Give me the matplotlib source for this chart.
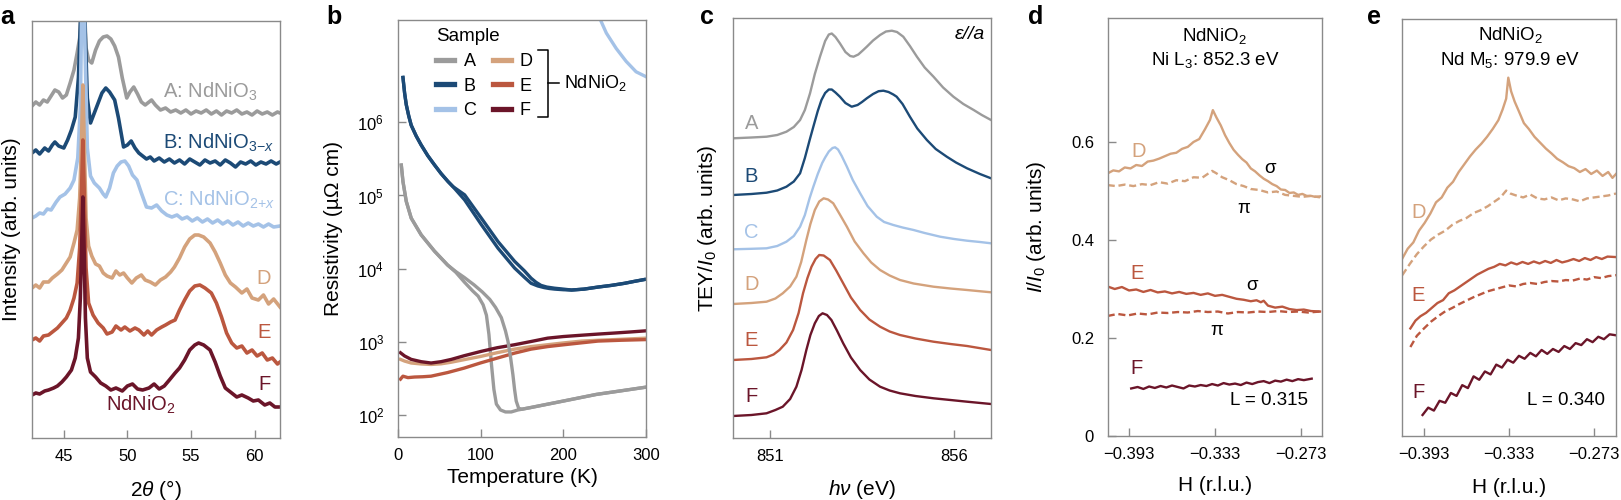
import matplotlib
matplotlib.use("Agg")
import matplotlib.pyplot as plt
from matplotlib.ticker import NullLocator

plt.rcParams['font.family'] = ['Liberation Sans', 'DejaVu Sans']
plt.rcParams['mathtext.fontset'] = 'custom'
plt.rcParams['mathtext.rm'] = 'Liberation Sans'
plt.rcParams['mathtext.it'] = 'Liberation Sans:italic'
plt.rcParams['mathtext.bf'] = 'Liberation Sans:bold'

colors = {'A': '#9b9b9b', 'B': '#1c4a76', 'C': '#a4c2e7',
          'D': '#d4a27c', 'E': '#bb573f', 'F': '#6b1529'}
frame = '#8a8a8a'

# ---- panel a: XRD, 2theta (deg) vs offset intensity (arb.)
xrd_A_x = [42.5, 42.8, 43.1, 43.4, 43.7, 44.0, 44.3, 44.6, 44.9, 45.2, 45.5, 45.8, 46.05, 46.25, 46.4, 46.5, 46.6,
           46.75, 46.95, 47.2, 47.5, 47.8, 48.1, 48.4, 48.7, 49.0, 49.3, 49.6, 49.95, 50.2, 50.5, 50.8, 51.1, 51.4,
           51.7, 51.9, 52.2, 52.6, 53.0, 53.4, 53.8, 54.2, 54.6, 55.0, 55.4, 55.8, 56.2, 56.6, 57.0, 57.4, 57.8,
           58.2, 58.6, 59.0, 59.4, 59.8, 60.2, 60.6, 61.0, 61.4, 61.8, 62.0]
xrd_A_y = [332, 336, 333, 338, 336, 342, 348, 346, 340, 343, 355, 368, 385, 400, 440, 520, 440,
           390, 378, 375, 388, 397, 401, 402, 399, 392, 381, 360, 340, 346, 351, 344, 336, 333,
           336, 338, 333, 328, 330, 326, 328, 325, 328, 324, 327, 325, 328, 324, 327, 323, 327,
           325, 328, 324, 326, 323, 327, 324, 326, 323, 326, 325]
xrd_B_x = [42.5, 42.8, 43.1, 43.5, 43.8, 44.1, 44.3, 44.6, 45.0, 45.3, 45.6, 45.9, 46.15, 46.35, 46.5, 46.65,
           46.85, 47.1, 47.4, 47.7, 48.0, 48.3, 48.6, 49.0, 49.3, 49.7, 50.0, 50.3, 50.6, 50.9, 51.2, 51.5,
           51.8, 52.1, 52.5, 52.9, 53.3, 53.7, 54.1, 54.5, 54.9, 55.3, 55.7, 56.1, 56.5, 56.9, 57.3, 57.7,
           58.1, 58.5, 58.9, 59.3, 59.7, 60.1, 60.5, 60.9, 61.3, 61.7, 62.0]
xrd_B_y = [285, 288, 284, 290, 287, 293, 296, 292, 290, 298, 308, 321, 360, 430, 520, 420,
           340, 315, 325, 335, 345, 350, 346, 338, 320, 291, 293, 297, 290, 285, 282, 279,
           281, 277, 280, 276, 279, 275, 278, 274, 279, 276, 273, 278, 275, 277, 273, 278,
           275, 271, 276, 274, 277, 273, 276, 274, 277, 274, 276]
xrd_C_x = [42.5, 42.8, 43.1, 43.4, 43.7, 44.0, 44.4, 44.7, 45.1, 45.5, 45.8, 46.1, 46.3, 46.5, 46.65, 46.85,
           47.1, 47.4, 47.8, 48.1, 48.3, 48.6, 48.9, 49.2, 49.5, 49.8, 50.1, 50.4, 50.75, 51.1, 51.5, 51.9,
           52.3, 52.7, 53.1, 53.5, 53.9, 54.3, 54.7, 55.1, 55.5, 55.9, 56.3, 56.7, 57.1, 57.5, 57.9, 58.3,
           58.7, 59.1, 59.5, 59.9, 60.3, 60.7, 61.1, 61.5, 62.0]
xrd_C_y = [220, 222, 225, 224, 229, 228, 236, 241, 244, 250, 258, 280, 330, 520, 400, 290,
           262, 255, 250, 244, 241, 250, 265, 272, 276, 277, 272, 263, 258, 245, 231, 230,
           233, 227, 223, 221, 223, 219, 221, 217, 220, 216, 219, 215, 218, 214, 217, 213,
           216, 212, 215, 212, 214, 211, 214, 211, 212]
xrd_D_x = [42.5, 42.8, 43.1, 43.4, 43.8, 44.1, 44.5, 44.85, 45.2, 45.5, 45.8, 46.05, 46.25, 46.4, 46.5, 46.6,
           46.75, 46.95, 47.2, 47.5, 47.8, 48.1, 48.4, 48.8, 49.1, 49.4, 49.7, 50.0, 50.35, 50.7, 51.1, 51.4,
           51.8, 52.2, 52.6, 53.0, 53.4, 53.7, 54.1, 54.5, 54.9, 55.3, 55.6, 56.0, 56.5, 56.9, 57.3, 57.7,
           58.1, 58.5, 59.0, 59.4, 59.8, 60.3, 60.7, 61.1, 61.5, 62.0]
xrd_D_y = [150, 153, 150, 156, 156, 160, 164, 168, 175, 181, 195, 208, 240, 300, 353, 300,
           220, 192, 182, 174, 172, 165, 162, 160, 167, 163, 165, 160, 155, 160, 163, 158,
           156, 153, 158, 161, 166, 171, 180, 191, 199, 203, 203, 201, 195, 186, 175, 163,
           155, 151, 145, 149, 140, 138, 143, 134, 139, 131]
xrd_E_x = [42.5, 42.8, 43.1, 43.4, 43.8, 44.1, 44.5, 44.85, 45.2, 45.5, 45.8, 46.05, 46.25, 46.4, 46.5, 46.6,
           46.75, 46.95, 47.3, 47.7, 48.1, 48.4, 48.8, 49.1, 49.5, 49.8, 50.2, 50.6, 50.9, 51.3, 51.6, 51.9,
           52.3, 52.7, 53.0, 53.4, 53.75, 54.1, 54.5, 54.9, 55.3, 55.7, 56.1, 56.6, 57.0, 57.4, 57.8, 58.2,
           58.6, 59.0, 59.4, 59.8, 60.2, 60.6, 61.0, 61.4, 61.8, 62.0]
xrd_E_y = [98, 100, 97, 102, 103, 106, 110, 115, 120, 128, 140, 155, 190, 250, 298, 250,
           170, 135, 123, 115, 110, 104, 106, 112, 108, 111, 107, 110, 108, 103, 107, 103,
           108, 111, 113, 116, 118, 128, 138, 147, 152, 153, 150, 145, 135, 121, 105, 95,
           90, 92, 85, 88, 82, 85, 78, 80, 74, 76]
xrd_F_x = [42.5, 42.8, 43.1, 43.5, 43.8, 44.2, 44.5, 44.85, 45.2, 45.6, 45.9, 46.15, 46.3, 46.42, 46.5, 46.58,
           46.7, 46.85, 47.1, 47.5, 47.9, 48.3, 48.7, 49.1, 49.6, 50.0, 50.4, 50.8, 51.2, 51.7, 52.1, 52.5,
           52.9, 53.3, 53.75, 54.1, 54.5, 54.9, 55.3, 55.6, 56.0, 56.5, 56.9, 57.3, 57.7, 58.2, 58.6, 59.0,
           59.5, 59.9, 60.3, 60.8, 61.2, 61.6, 62.0]
xrd_F_y = [43, 45, 44, 47, 48, 50, 52, 56, 61, 68, 80, 100, 140, 200, 241, 200,
           120, 80, 66, 61, 55, 52, 48, 50, 47, 52, 54, 49, 48, 50, 54, 49,
           52, 58, 65, 70, 78, 88, 93, 95, 93, 88, 76, 62, 50, 45, 41, 43,
           40, 37, 38, 33, 35, 31, 31]

# ---- panel b: resistivity (uOhm cm) vs temperature (K), two branches for A and B
rho_A1_T = [4, 6, 10, 16, 28, 44, 60, 70, 80, 90, 97, 103, 107, 110, 113, 116, 119, 124, 130, 137, 145, 160,
            200, 240, 270, 300]
rho_A1 = [2.6e5, 1.55e5, 8.3e4, 4.9e4, 2.9e4, 1.74e4, 1.12e4, 8.9e3, 6.6e3, 5.0e3, 4.2e3, 3.2e3, 2.3e3,
          1.26e3, 500, 224, 141, 117, 110, 110, 117, 126, 155, 191, 214, 240]
rho_A2_T = [4, 6, 10, 16, 28, 44, 60, 70, 80, 92, 102, 111, 118, 125, 130, 133, 136, 139, 141, 143, 146, 150,
            160, 200, 240, 270, 300]
rho_A2 = [2.6e5, 1.55e5, 8.3e4, 4.9e4, 2.9e4, 1.74e4, 1.12e4, 9.1e3, 7.6e3, 6.0e3, 4.8e3, 3.8e3, 2.95e3,
          2.14e3, 1.41e3, 1.02e3, 631, 355, 224, 155, 123, 120, 126, 155, 191, 214, 240]
rho_B1_T = [6, 8, 10, 13, 16, 22, 28, 36, 44, 52, 60.5, 66.5, 80.6, 100.8, 121, 141, 153, 161, 167, 173, 180,
            189.5, 200, 210, 225, 242, 258, 274, 286, 298]
rho_B1 = [4.1e6, 2.5e6, 1.74e6, 1.22e6, 9.1e5, 6.5e5, 4.9e5, 3.5e5, 2.63e5, 2.0e5, 1.55e5, 1.32e5, 1.02e5,
          4.9e4, 2.34e4, 1.26e4, 9.3e3, 7.4e3, 6.5e3, 5.9e3, 5.6e3, 5.4e3, 5.25e3, 5.1e3, 5.25e3, 5.6e3,
          5.9e3, 6.3e3, 6.7e3, 7.1e3]
rho_B2_T = [6, 8, 10, 13, 16, 22, 28, 36, 44, 52, 60.5, 66.5, 80.6, 100.8, 121, 141, 153, 161, 169, 177, 183,
            189.5, 200, 210, 225, 242, 258, 274, 286, 298]
rho_B2 = [4.1e6, 2.5e6, 1.74e6, 1.22e6, 9.1e5, 6.5e5, 4.9e5, 3.5e5, 2.63e5, 2.0e5, 1.55e5, 1.32e5, 8.7e4,
          4.0e4, 1.9e4, 1.02e4, 7.6e3, 6.3e3, 5.8e3, 5.5e3, 5.35e3, 5.25e3, 5.15e3, 5.1e3, 5.25e3, 5.6e3,
          5.9e3, 6.3e3, 6.7e3, 7.1e3]
rho_C_T = [243, 252, 264, 276, 288, 300]
rho_C = [2.8e7, 1.66e7, 1.02e7, 6.8e6, 4.9e6, 4.2e6]
rho_D_T = [3, 8, 16, 28, 40, 52, 64, 80, 100, 120, 141, 161, 181, 200, 222, 242, 262, 282, 300]
rho_D = [575, 545, 513, 498, 490, 500, 525, 570, 631, 710, 794, 860, 912, 965, 1023, 1050, 1072, 1098, 1122]
rho_E_T = [3, 6, 12, 20, 30, 40, 60, 80, 100, 121, 141, 161, 181, 201, 222, 242, 270, 300]
rho_E = [309, 339, 324, 330, 333, 339, 380, 437, 515, 603, 700, 794, 860, 912, 968, 1023, 1050, 1072]
rho_F_T = [3, 8, 16, 28, 40, 52, 64.5, 80, 100.8, 120, 141, 161, 181, 200, 222, 242, 262, 282, 300]
rho_F = [708, 640, 575, 535, 513, 535, 575, 645, 741, 830, 912, 1010, 1122, 1180, 1230, 1275, 1318, 1365, 1413]

# ---- panel c: XAS, photon energy (eV) vs offset TEY (arb.)
xas_A_x = [850.0, 850.5, 850.91, 851.2, 851.45, 851.65, 851.82, 851.95, 852.09, 852.22, 852.36, 852.5, 852.6,
           852.68, 852.78, 852.9, 853.05, 853.18, 853.27, 853.4, 853.52, 853.63, 853.8, 853.99, 854.15, 854.31,
           854.45, 854.62, 854.8, 854.99, 855.2, 855.44, 855.7, 855.98, 856.25, 856.53, 856.75, 857.0]
xas_A_y = [299.7, 300.5, 301.3, 303, 306.3, 311, 318, 328, 344.7, 364, 381.3, 397, 403.5,
           404.5, 401, 394.7, 386, 382, 381.3, 383.5, 387.5, 391.3, 397.5, 403, 406.5, 407.3,
           406, 401.3, 392, 381.3, 370.5, 361.3, 350.5, 341.3, 334, 328, 323, 318]
xas_B_x = [850.0, 850.5, 850.91, 851.2, 851.45, 851.65, 851.82, 851.95, 852.08, 852.18, 852.3, 852.4, 852.5,
           852.6, 852.68, 852.78, 852.9, 853.05, 853.22, 853.38, 853.5, 853.63, 853.8, 853.95, 854.08, 854.22,
           854.35, 854.44, 854.6, 854.8, 855.0, 855.26, 855.5, 855.8, 856.05, 856.35, 856.7, 857.0]
xas_B_y = [243, 244, 245.3, 247.5, 251.3, 256.5, 264.7, 280, 298, 311.3, 327, 338, 345,
           348.5, 348.5, 345.5, 341.3, 335, 331.3, 333, 336, 339.7, 344, 346.8, 347.3, 346,
           343.5, 341.3, 334, 321.3, 309.5, 298, 289, 281.3, 275.5, 269.7, 264, 259.7]
xas_C_x = [850.0, 850.5, 850.91, 851.2, 851.45, 851.65, 851.82, 851.95, 852.08, 852.18, 852.3, 852.42, 852.5,
           852.6, 852.7, 852.77, 852.85, 852.95, 853.09, 853.25, 853.45, 853.65, 853.9, 854.1, 854.35, 854.6,
           854.9, 855.2, 855.62, 856.0, 856.35, 856.7, 857.0]
xas_C_y = [188.7, 189.2, 189.7, 192, 196.3, 202, 211.3, 223, 240, 251.3, 264, 275, 280.5,
           286.5, 290, 290.7, 288.5, 282, 271.3, 258, 244.7, 232, 221.3, 216, 213, 210.5,
           208, 205, 201.3, 199, 197.3, 196, 194.7]
xas_D_x = [850.0, 850.5, 850.91, 851.15, 851.35, 851.55, 851.72, 851.85, 851.99, 852.1, 852.22, 852.34, 852.46,
           852.58, 852.72, 852.9, 853.09, 853.3, 853.54, 853.75, 853.99, 854.25, 854.53, 854.9, 855.44, 855.9,
           856.35, 857.0]
xas_D_y = [134, 135, 136.3, 139.5, 144.7, 151.5, 161.3, 176, 198, 214, 228, 236.5, 239.7,
           238.5, 234.7, 223.5, 211.3, 196.5, 184.7, 175.5, 168, 162.5, 158, 154.5, 151.3, 149.5,
           148, 145.7]
xas_E_x = [850.0, 850.5, 850.91, 851.1, 851.26, 851.45, 851.63, 851.78, 851.9, 852.02, 852.13, 852.24, 852.34,
           852.46, 852.63, 852.8, 852.99, 853.2, 853.45, 853.7, 853.99, 854.25, 854.53, 854.95, 855.44, 855.9,
           856.35, 857.0]
xas_E_y = [78, 79, 80.7, 83.5, 88, 95.5, 108, 125, 144.7, 160, 171.3, 179, 183,
           182.5, 178, 167.5, 154.7, 140.5, 128, 118.5, 111.3, 106.5, 103, 99.5, 96.3, 94,
           92, 88]
xas_F_x = [850.0, 850.5, 850.91, 851.15, 851.35, 851.55, 851.72, 851.86, 851.99, 852.1, 852.22, 852.33, 852.43,
           852.55, 852.67, 852.82, 852.99, 853.2, 853.45, 853.7, 853.99, 854.25, 854.53, 854.95, 855.44, 855.9,
           856.35, 857.0]
xas_F_y = [22, 23, 24.7, 28, 31.3, 39, 51.3, 68, 88, 103, 114.7, 122, 124.7,
           123, 118, 107.5, 94.7, 80.5, 68, 58.5, 51.3, 47.5, 44.7, 42, 39.7, 38,
           36.3, 34]

# ---- panel d: Ni L3 scans along H, sigma (solid) and pi (dashed)
ni_D_sig_H = [-0.4079, -0.404, -0.400, -0.396, -0.392, -0.388, -0.384, -0.380, -0.376, -0.372, -0.368, -0.364,
              -0.360, -0.356, -0.352, -0.348, -0.344, -0.340, -0.3365, -0.3345, -0.332, -0.329, -0.326, -0.323,
              -0.320, -0.317, -0.314, -0.311, -0.308, -0.305, -0.302, -0.299, -0.296, -0.293, -0.290, -0.287,
              -0.284, -0.281, -0.278, -0.275, -0.272, -0.269, -0.266, -0.263, -0.2597]
ni_D_sig = [0.536, 0.542, 0.540, 0.548, 0.546, 0.553, 0.551, 0.560, 0.562, 0.566, 0.571, 0.576,
            0.578, 0.586, 0.590, 0.600, 0.606, 0.626, 0.645, 0.665, 0.650, 0.634, 0.614, 0.598,
            0.584, 0.574, 0.565, 0.558, 0.546, 0.540, 0.532, 0.525, 0.520, 0.514, 0.510, 0.503,
            0.502, 0.496, 0.497, 0.492, 0.494, 0.490, 0.490, 0.488, 0.489]
ni_D_pi_H = [-0.4079, -0.402, -0.396, -0.390, -0.384, -0.378, -0.372, -0.366, -0.360, -0.354, -0.348, -0.342,
             -0.338, -0.335, -0.332, -0.328, -0.323, -0.318, -0.313, -0.308, -0.302, -0.296, -0.290, -0.284,
             -0.278, -0.272, -0.266, -0.2597]
ni_D_pi = [0.512, 0.510, 0.513, 0.510, 0.514, 0.512, 0.518, 0.515, 0.522, 0.520, 0.528, 0.527,
           0.535, 0.541, 0.536, 0.528, 0.522, 0.514, 0.510, 0.504, 0.502, 0.497, 0.499, 0.492,
           0.490, 0.488, 0.490, 0.487]
ni_E_sig_H = [-0.4079, -0.403, -0.398, -0.393, -0.388, -0.383, -0.378, -0.373, -0.368, -0.363, -0.358, -0.353,
              -0.348, -0.343, -0.338, -0.333, -0.328, -0.323, -0.318, -0.313, -0.308, -0.304, -0.301, -0.299,
              -0.296, -0.291, -0.286, -0.281, -0.276, -0.271, -0.266, -0.2597]
ni_E_sig = [0.305, 0.300, 0.304, 0.297, 0.299, 0.294, 0.298, 0.293, 0.295, 0.291, 0.294, 0.290,
            0.292, 0.288, 0.291, 0.286, 0.288, 0.284, 0.280, 0.278, 0.275, 0.277, 0.273, 0.276,
            0.266, 0.262, 0.264, 0.259, 0.257, 0.258, 0.255, 0.254]
ni_E_pi_H = [-0.4079, -0.401, -0.394, -0.387, -0.380, -0.373, -0.366, -0.359, -0.352, -0.345, -0.338, -0.331,
             -0.324, -0.317, -0.310, -0.303, -0.296, -0.289, -0.282, -0.275, -0.268, -0.2597]
ni_E_pi = [0.245, 0.249, 0.246, 0.250, 0.248, 0.252, 0.251, 0.253, 0.252, 0.255, 0.253, 0.254,
           0.250, 0.253, 0.252, 0.254, 0.253, 0.255, 0.253, 0.254, 0.252, 0.254]
ni_F_H = [-0.3915, -0.387, -0.383, -0.379, -0.375, -0.371, -0.367, -0.363, -0.359, -0.355, -0.351, -0.347,
          -0.343, -0.339, -0.335, -0.331, -0.327, -0.323, -0.319, -0.315, -0.311, -0.307, -0.303, -0.299,
          -0.295, -0.291, -0.287, -0.283, -0.279, -0.275, -0.271, -0.2655]
ni_F = [0.097, 0.100, 0.096, 0.101, 0.098, 0.102, 0.099, 0.103, 0.100, 0.097, 0.103, 0.101,
        0.104, 0.102, 0.106, 0.103, 0.108, 0.105, 0.107, 0.104, 0.109, 0.106, 0.110, 0.112,
        0.108, 0.113, 0.111, 0.115, 0.112, 0.116, 0.114, 0.117]

# ---- panel e: Nd M5 scans along H
nd_D_sig_H = [-0.4083, -0.4045, -0.4005, -0.3965, -0.3925, -0.3885, -0.3845, -0.3805, -0.3765, -0.3725, -0.3685,
              -0.3645, -0.3605, -0.3565, -0.3525, -0.3485, -0.3445, -0.3405, -0.3375, -0.3350, -0.3335, -0.3315,
              -0.3290, -0.3260, -0.3225, -0.3190, -0.3150, -0.3110, -0.3070, -0.3030, -0.2990, -0.2950, -0.2910,
              -0.2870, -0.2830, -0.2790, -0.2750, -0.2710, -0.2670, -0.2630, -0.2600, -0.2575]
nd_D_sig = [0.363, 0.383, 0.396, 0.420, 0.436, 0.455, 0.478, 0.488, 0.508, 0.520, 0.540,
            0.556, 0.572, 0.586, 0.598, 0.612, 0.628, 0.646, 0.668, 0.690, 0.733, 0.705,
            0.684, 0.664, 0.640, 0.628, 0.612, 0.600, 0.588, 0.578, 0.567, 0.560, 0.552,
            0.548, 0.540, 0.546, 0.536, 0.543, 0.532, 0.540, 0.528, 0.536]
nd_D_pi_H = [-0.4083, -0.4030, -0.3980, -0.3930, -0.3880, -0.3830, -0.3780, -0.3730, -0.3680, -0.3630, -0.3580,
             -0.3530, -0.3480, -0.3430, -0.3390, -0.3350, -0.3320, -0.3280, -0.3230, -0.3180, -0.3130, -0.3080,
             -0.3030, -0.2980, -0.2930, -0.2880, -0.2830, -0.2780, -0.2730, -0.2680, -0.2630, -0.2575]
nd_D_pi = [0.329, 0.352, 0.372, 0.388, 0.402, 0.412, 0.420, 0.432, 0.440, 0.446, 0.456,
           0.462, 0.470, 0.480, 0.488, 0.502, 0.496, 0.492, 0.488, 0.494, 0.486, 0.484,
           0.488, 0.482, 0.486, 0.484, 0.480, 0.486, 0.488, 0.490, 0.492, 0.496]
nd_E_sig_H = [-0.4026, -0.3990, -0.3955, -0.3915, -0.3875, -0.3835, -0.3795, -0.3755, -0.3715, -0.3675, -0.3635,
              -0.3595, -0.3555, -0.3515, -0.3475, -0.3435, -0.3395, -0.3355, -0.3315, -0.3275, -0.3235, -0.3195,
              -0.3155, -0.3115, -0.3075, -0.3035, -0.2995, -0.2955, -0.2915, -0.2875, -0.2835, -0.2795, -0.2755,
              -0.2715, -0.2675, -0.2635, -0.2575]
nd_E_sig = [0.220, 0.236, 0.245, 0.252, 0.262, 0.272, 0.278, 0.292, 0.298, 0.306, 0.314,
            0.322, 0.330, 0.336, 0.342, 0.346, 0.352, 0.349, 0.355, 0.351, 0.356, 0.352,
            0.357, 0.353, 0.358, 0.354, 0.360, 0.355, 0.358, 0.362, 0.358, 0.364, 0.360,
            0.366, 0.362, 0.367, 0.366]
nd_E_pi_H = [-0.4026, -0.3980, -0.3930, -0.3880, -0.3830, -0.3780, -0.3730, -0.3680, -0.3630, -0.3580, -0.3530,
             -0.3480, -0.3430, -0.3380, -0.3330, -0.3280, -0.3230, -0.3180, -0.3130, -0.3080, -0.3030, -0.2980,
             -0.2930, -0.2880, -0.2830, -0.2780, -0.2730, -0.2680, -0.2630, -0.2575]
nd_E_pi = [0.182, 0.205, 0.220, 0.234, 0.245, 0.255, 0.262, 0.270, 0.277, 0.284, 0.290,
           0.296, 0.300, 0.304, 0.308, 0.306, 0.311, 0.313, 0.311, 0.315, 0.317, 0.316,
           0.319, 0.318, 0.322, 0.320, 0.325, 0.323, 0.327, 0.329]
nd_F_H = [-0.3940, -0.3900, -0.3860, -0.3820, -0.3780, -0.3740, -0.3700, -0.3660, -0.3620, -0.3580, -0.3540,
          -0.3500, -0.3460, -0.3420, -0.3380, -0.3340, -0.3300, -0.3260, -0.3220, -0.3180, -0.3140, -0.3100,
          -0.3060, -0.3020, -0.2980, -0.2940, -0.2900, -0.2860, -0.2820, -0.2780, -0.2740, -0.2700, -0.2660,
          -0.2620, -0.2575]
nd_F = [0.043, 0.058, 0.052, 0.072, 0.068, 0.088, 0.082, 0.104, 0.098, 0.122, 0.115,
        0.132, 0.126, 0.146, 0.140, 0.156, 0.150, 0.164, 0.158, 0.170, 0.163, 0.176,
        0.168, 0.178, 0.172, 0.184, 0.178, 0.190, 0.186, 0.198, 0.192, 0.203, 0.198,
        0.208, 0.206]

H_ticks = [-0.393, -0.333, -0.273]
H_labels = ['\u22120.393', '\u22120.333', '\u22120.273']

tick_fs = 12
label_fs = 15
tsz = 14.5
note_fs = 13.5


def style_axes(ax):
    for s in ax.spines.values():
        s.set_color(frame)
        s.set_linewidth(1.0)
    ax.tick_params(direction='in', length=6, width=1, color=frame, labelsize=tick_fs, pad=8)
    ax.tick_params(axis='y', pad=10)


fig = plt.figure(figsize=(16.21, 5), dpi=100)
W, Hpx = 1621, 500


def add_axes(l, r, t, b):
    return fig.add_axes([l / W, 1 - b / Hpx, (r - l) / W, (b - t) / Hpx])


ax_a = add_axes(32, 280, 21, 438)
ax_b = add_axes(398, 646, 20, 437)
ax_c = add_axes(733, 991, 18, 438)
ax_d = add_axes(1108, 1322, 18, 436)
ax_e = add_axes(1402, 1616, 19, 436)
for ax in (ax_a, ax_b, ax_c, ax_d, ax_e):
    style_axes(ax)

# panel a
for key, xs, ys in [('A', xrd_A_x, xrd_A_y), ('B', xrd_B_x, xrd_B_y), ('C', xrd_C_x, xrd_C_y),
                    ('D', xrd_D_x, xrd_D_y), ('E', xrd_E_x, xrd_E_y), ('F', xrd_F_x, xrd_F_y)]:
    ax_a.plot(xs, ys, color=colors[key], lw=2.6, solid_joinstyle='round')
ax_a.set_xlim(42.5, 62)
ax_a.set_ylim(0, 417)
ax_a.set_xticks([45, 50, 55, 60])
ax_a.set_yticks([])
ax_a.set_xlabel('2$\\theta$ (°)', fontsize=label_fs)
ax_a.set_ylabel('Intensity (arb. units)', fontsize=label_fs)
ax_a.xaxis.set_label_coords(0.5, -0.096)
ax_a.yaxis.set_label_coords(-0.044, 0.5)
ax_a.text(52.8, 346, 'A: NdNiO$_3$', color=colors['A'], fontsize=tsz, va='center')
ax_a.text(52.8, 295, 'B: NdNiO$_{3{-}x}$', color=colors['B'], fontsize=tsz, va='center')
ax_a.text(52.8, 238, 'C: NdNiO$_{2{+}x}$', color=colors['C'], fontsize=tsz, va='center')
ax_a.text(61.3, 160, 'D', color=colors['D'], fontsize=tsz, va='center', ha='right')
ax_a.text(61.3, 105, 'E', color=colors['E'], fontsize=tsz, va='center', ha='right')
ax_a.text(61.3, 53, 'F', color=colors['F'], fontsize=tsz, va='center', ha='right')
ax_a.text(51.06, 33, 'NdNiO$_2$', color=colors['F'], fontsize=tsz, va='center', ha='center')

# panel b
lines = {}
for key, xs, ys in [('A', rho_A1_T, rho_A1), ('B', rho_B1_T, rho_B1), ('C', rho_C_T, rho_C),
                    ('D', rho_D_T, rho_D), ('E', rho_E_T, rho_E), ('F', rho_F_T, rho_F)]:
    lines[key], = ax_b.plot(xs, ys, color=colors[key], lw=2.4, solid_joinstyle='round')
ax_b.plot(rho_A2_T, rho_A2, color=colors['A'], lw=2.4, solid_joinstyle='round')
ax_b.plot(rho_B2_T, rho_B2, color=colors['B'], lw=2.4, solid_joinstyle='round')
ax_b.set_yscale('log')
ax_b.set_xlim(0, 300)
ax_b.set_ylim(50, 2.5e7)
ax_b.set_xticks([0, 100, 200, 300])
ax_b.set_yticks([1e2, 1e3, 1e4, 1e5, 1e6])
ax_b.yaxis.set_minor_locator(NullLocator())
ax_b.set_xlabel('Temperature (K)', fontsize=label_fs)
ax_b.set_ylabel('Resistivity (\u00b5\u03a9 cm)', fontsize=label_fs)
ax_b.xaxis.set_label_coords(0.5, -0.074)
ax_b.yaxis.set_label_coords(-0.222, 0.5)
leg = ax_b.legend([lines[k] for k in 'ABCDEF'], list('ABCDEF'), ncol=2, title='Sample',
                  fontsize=13, title_fontsize=13.5, frameon=False, loc='upper left',
                  bbox_to_anchor=(0.155, 0.98), borderpad=0, borderaxespad=0,
                  handlelength=1.0, handletextpad=0.5, labelspacing=0.42, columnspacing=0.9,
                  alignment='left')
for h in leg.legend_handles:
    h.set_linewidth(3.8)
bk = dict(color='black', lw=1.1, transform=ax_b.transAxes, clip_on=False)
ax_b.plot([0.565, 0.605, 0.605, 0.565], [0.928, 0.928, 0.767, 0.767], **bk)
ax_b.plot([0.605, 0.65], [0.849, 0.849], **bk)
ax_b.text(0.668, 0.849, 'NdNiO$_2$', transform=ax_b.transAxes, fontsize=13, va='center')

# panel c
for key, xs, ys in [('A', xas_A_x, xas_A_y), ('B', xas_B_x, xas_B_y), ('C', xas_C_x, xas_C_y),
                    ('D', xas_D_x, xas_D_y), ('E', xas_E_x, xas_E_y), ('F', xas_F_x, xas_F_y)]:
    ax_c.plot(xs, ys, color=colors[key], lw=1.7, solid_joinstyle='round')
ax_c.set_xlim(850, 857)
ax_c.set_ylim(0, 420)
ax_c.set_xticks([851, 856])
ax_c.set_yticks([])
ax_c.set_xlabel('$h\\nu$ (eV)', fontsize=label_fs)
ax_c.set_ylabel('TEY/$I_0$ (arb. units)', fontsize=label_fs)
ax_c.xaxis.set_label_coords(0.5, -0.095)
ax_c.yaxis.set_label_coords(-0.054, 0.5)
for key, yy in zip('ABCDEF', [314.7, 261.3, 206, 153, 98, 41.3]):
    ax_c.text(850.5, yy, key, color=colors[key], fontsize=tsz, ha='center', va='center')
ax_c.text(0.977, 0.96, '\u03b5//a', transform=ax_c.transAxes, fontsize=14, style='italic',
          ha='right', va='center')

# panel d
dash = (0, (3, 1.6))
ax_d.plot(ni_D_sig_H, ni_D_sig, color=colors['D'], lw=1.7)
ax_d.plot(ni_D_pi_H, ni_D_pi, color=colors['D'], lw=1.7, ls=dash)
ax_d.plot(ni_E_sig_H, ni_E_sig, color=colors['E'], lw=1.7)
ax_d.plot(ni_E_pi_H, ni_E_pi, color=colors['E'], lw=1.7, ls=dash)
ax_d.plot(ni_F_H, ni_F, color=colors['F'], lw=1.7)
ax_d.set_xlim(-0.4077, -0.2583)
ax_d.set_ylim(0, 0.853)
ax_d.set_xticks(H_ticks)
ax_d.set_xticklabels(H_labels)
ax_d.set_yticks([0, 0.2, 0.4, 0.6])
ax_d.set_yticklabels(['0', '0.2', '0.4', '0.6'])
ax_d.set_xlabel('H (r.l.u.)', fontsize=label_fs)
ax_d.set_ylabel('$I/I_0$ (arb. units)', fontsize=label_fs)
ax_d.xaxis.set_label_coords(0.5, -0.096)
ax_d.yaxis.set_label_coords(-0.28, 0.5)
ax_d.text(0.5, 0.957, 'NdNiO$_2$', transform=ax_d.transAxes, fontsize=note_fs, ha='center', va='center')
ax_d.text(0.5, 0.9, 'Ni L$_3$: 852.3 eV', transform=ax_d.transAxes, fontsize=note_fs, ha='center',
          va='center')
ax_d.text(-0.3865, 0.58, 'D', color=colors['D'], fontsize=tsz, ha='center', va='center')
ax_d.text(-0.3876, 0.332, 'E', color=colors['E'], fontsize=tsz, ha='center', va='center')
ax_d.text(-0.3876, 0.138, 'F', color=colors['F'], fontsize=tsz, ha='center', va='center')
ax_d.text(-0.2946, 0.546, '\u03c3', fontsize=note_fs, ha='center', va='center')
ax_d.text(-0.3132, 0.465, '\u03c0', fontsize=note_fs, ha='center', va='center')
ax_d.text(-0.3073, 0.308, '\u03c3', fontsize=note_fs, ha='center', va='center')
ax_d.text(-0.3318, 0.216, '\u03c0', fontsize=note_fs, ha='center', va='center')
ax_d.text(-0.2679, 0.073, 'L = 0.315', fontsize=note_fs, ha='right', va='center')

# panel e
ax_e.plot(nd_D_sig_H, nd_D_sig, color=colors['D'], lw=1.7)
ax_e.plot(nd_D_pi_H, nd_D_pi, color=colors['D'], lw=1.7, ls=dash)
ax_e.plot(nd_E_sig_H, nd_E_sig, color=colors['E'], lw=1.7)
ax_e.plot(nd_E_pi_H, nd_E_pi, color=colors['E'], lw=1.7, ls=dash)
ax_e.plot(nd_F_H, nd_F, color=colors['F'], lw=1.7)
ax_e.set_xlim(-0.4085, -0.2575)
ax_e.set_ylim(0, 0.853)
ax_e.set_xticks(H_ticks)
ax_e.set_xticklabels(H_labels)
ax_e.set_yticks([])
ax_e.set_xlabel('H (r.l.u.)', fontsize=label_fs)
ax_e.xaxis.set_label_coords(0.5, -0.10)
ax_e.text(0.505, 0.962, 'NdNiO$_2$', transform=ax_e.transAxes, fontsize=note_fs, ha='center', va='center')
ax_e.text(0.505, 0.902, 'Nd M$_5$: 979.9 eV', transform=ax_e.transAxes, fontsize=note_fs, ha='center',
          va='center')
ax_e.text(-0.397, 0.458, 'D', color=colors['D'], fontsize=tsz, ha='center', va='center')
ax_e.text(-0.397, 0.288, 'E', color=colors['E'], fontsize=tsz, ha='center', va='center')
ax_e.text(-0.397, 0.09, 'F', color=colors['F'], fontsize=tsz, ha='center', va='center')
ax_e.text(-0.2652, 0.073, 'L = 0.340', fontsize=note_fs, ha='right', va='center')

for lab, xpx in [('a', 0), ('b', 326), ('c', 700), ('d', 1028), ('e', 1367)]:
    fig.text(xpx / W, 1 - 24 / Hpx, lab, fontsize=18, fontweight='bold', family='Liberation Sans',
             ha='left', va='baseline')

fig.savefig('out.png', dpi=100)
